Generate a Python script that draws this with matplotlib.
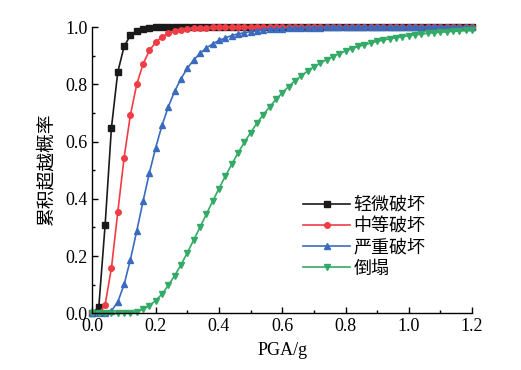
import numpy as np
import matplotlib
matplotlib.use("Agg")
import matplotlib.pyplot as plt
from matplotlib.ticker import MultipleLocator, FormatStrFormatter

plt.rcParams['font.family'] = ['Liberation Serif', 'Noto Sans CJK SC']
plt.rcParams['mathtext.fontset'] = 'stix'

pga = [round(0.02 * i, 2) for i in range(61)]

slight = [0.0, 0.023, 0.309, 0.649, 0.843, 0.932, 0.971, 0.987, 0.994, 0.997,
          0.999, 0.999, 1.0, 1.0, 1.0, 1.0, 1.0, 1.0, 1.0, 1.0,
          1.0, 1.0, 1.0, 1.0, 1.0, 1.0, 1.0, 1.0, 1.0, 1.0,
          1.0, 1.0, 1.0, 1.0, 1.0, 1.0, 1.0, 1.0, 1.0, 1.0,
          1.0, 1.0, 1.0, 1.0, 1.0, 1.0, 1.0, 1.0, 1.0, 1.0,
          1.0, 1.0, 1.0, 1.0, 1.0, 1.0, 1.0, 1.0, 1.0, 1.0, 1.0]

moderate = [0.0, 0.0, 0.030, 0.159, 0.354, 0.544, 0.694, 0.800, 0.871, 0.918,
            0.947, 0.966, 0.978, 0.986, 0.991, 0.994, 0.996, 0.997, 0.998, 0.999,
            0.999, 0.999, 1.0, 1.0, 1.0, 1.0, 1.0, 1.0, 1.0, 1.0,
            1.0, 1.0, 1.0, 1.0, 1.0, 1.0, 1.0, 1.0, 1.0, 1.0,
            1.0, 1.0, 1.0, 1.0, 1.0, 1.0, 1.0, 1.0, 1.0, 1.0,
            1.0, 1.0, 1.0, 1.0, 1.0, 1.0, 1.0, 1.0, 1.0, 1.0, 1.0]

severe = [0.0, 0.0, 0.001, 0.009, 0.040, 0.101, 0.188, 0.288, 0.392, 0.491,
          0.579, 0.657, 0.722, 0.776, 0.820, 0.856, 0.885, 0.908, 0.927, 0.941,
          0.953, 0.962, 0.970, 0.976, 0.980, 0.984, 0.987, 0.990, 0.992, 0.993,
          0.994, 0.996, 0.996, 0.997, 0.998, 0.998, 0.998, 0.999, 0.999, 0.999,
          0.999, 0.999, 0.999, 1.0, 1.0, 1.0, 1.0, 1.0, 1.0, 1.0,
          1.0, 1.0, 1.0, 1.0, 1.0, 1.0, 1.0, 1.0, 1.0, 1.0, 1.0]

collapse = [0.0, 0.0, 0.0, 0.0, 0.0, 0.001, 0.002, 0.006, 0.014, 0.027,
            0.045, 0.068, 0.098, 0.132, 0.170, 0.212, 0.256, 0.301, 0.346, 0.392,
            0.436, 0.479, 0.520, 0.560, 0.597, 0.631, 0.664, 0.694, 0.721, 0.747,
            0.770, 0.792, 0.812, 0.829, 0.846, 0.861, 0.874, 0.886, 0.897, 0.907,
            0.916, 0.924, 0.932, 0.938, 0.944, 0.950, 0.954, 0.959, 0.963, 0.966,
            0.970, 0.973, 0.975, 0.978, 0.980, 0.982, 0.983, 0.985, 0.986, 0.988, 0.989]

series = [
    ("轻微破坏", slight, "#1a1a1a", "s", 4.0),
    ("中等破坏", moderate, "#f03c45", "o", 4.0),
    ("严重破坏", severe, "#3a6bbe", "^", 4.6),
    ("倒塌", collapse, "#33aa66", "v", 4.6),
]

fig = plt.figure(figsize=(5.21, 3.70), dpi=100)
ax = fig.add_axes([0.1775, 0.153, 0.7285, 0.774])

for name, vals, col, mk, ms in series:
    ax.plot(pga, vals, color=col, marker=mk, markersize=ms, linewidth=1.2,
            label=name, clip_on=False)

ax.set_xlim(0, 1.2)
ax.set_ylim(0, 1.0)
ax.xaxis.set_major_locator(MultipleLocator(0.2))
ax.xaxis.set_minor_locator(MultipleLocator(0.1))
ax.yaxis.set_major_locator(MultipleLocator(0.2))
ax.yaxis.set_minor_locator(MultipleLocator(0.1))
ax.xaxis.set_major_formatter(FormatStrFormatter('%.1f'))
ax.yaxis.set_major_formatter(FormatStrFormatter('%.1f'))
ax.tick_params(which='both', direction='in', labelsize=13)
ax.tick_params(which='major', length=4, width=1)
ax.tick_params(which='minor', length=2.5, width=1)
ax.spines['top'].set_visible(False)
ax.spines['right'].set_visible(False)
for s in ['left', 'bottom']:
    ax.spines[s].set_linewidth(1.0)

ax.set_xlabel("PGA/g", fontsize=13, labelpad=5)
ax.set_ylabel("累积超越概率", fontsize=13.5, labelpad=6,
              family=['Noto Sans CJK SC', 'Liberation Serif'])

leg = ax.legend(loc='upper left', bbox_to_anchor=(0.555, 0.41), frameon=False,
                borderaxespad=0, borderpad=0, handlelength=2.6, handletextpad=0.2,
                labelspacing=0.18,
                prop={'family': ['Noto Sans CJK SC', 'Liberation Serif'], 'size': 13})

fig.savefig("out.png", dpi=100)
